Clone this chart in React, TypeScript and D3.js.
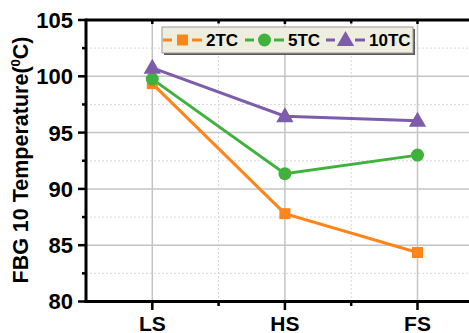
import React from "react";
import * as d3 from "d3";

const categories = ["LS", "HS", "FS"];
const seriesNames = ["2TC", "5TC", "10TC"];
const values2TC = [99.35, 87.8, 84.35];
const values5TC = [99.75, 91.35, 93.0];
const values10TC = [100.75, 96.45, 96.05];
const yTicks = [80, 85, 90, 95, 100, 105];
const yMinorTicks = [82.5, 87.5, 92.5, 97.5, 102.5];

const W = 469;
const H = 333;
const FONT = "'Liberation Sans', Arial, sans-serif";

const colors = ["#ff8419", "#41b13d", "#7d5cab"];
const shapes = ["square", "circle", "triangle"];

function Marker({ shape, cx, cy, color }: { shape: string; cx: number; cy: number; color: string }) {
  if (shape === "square") {
    return <rect x={cx - 5.5} y={cy - 5.5} width={11} height={11} fill={color} />;
  }
  if (shape === "circle") {
    return <circle cx={cx} cy={cy} r={6.5} fill={color} />;
  }
  const path = d3.symbol(d3.symbolTriangle, 130)();
  return <path d={path || ""} transform={`translate(${cx},${cy + 1})`} fill={color} />;
}

export default function App() {
  const x = d3.scaleLinear().domain([-0.5, 2.5]).range([86, 483.8]);
  const y = d3.scaleLinear().domain([80, 105]).range([301.5, 20]);
  const series = [values2TC, values5TC, values10TC];
  const line = d3
    .line<number>()
    .x((_, i) => x(i))
    .y((v) => y(v));
  const xMinor = [0.5, 1.5];

  const legendX = [163, 245, 326];
  const legendY = 40;

  return (
    <svg width={W} height={H} style={{ position: "absolute", left: 0, top: 0, background: "#fff" }}>
      {/* grid */}
      {yMinorTicks.map((t) => (
        <line key={"gm" + t} x1={86} x2={W} y1={y(t)} y2={y(t)} stroke="#d8d8d8" strokeWidth={1} strokeDasharray="2,2" />
      ))}
      {xMinor.map((t) => (
        <line key={"gxm" + t} x1={x(t)} x2={x(t)} y1={20} y2={301.5} stroke="#d8d8d8" strokeWidth={1} strokeDasharray="2,2" />
      ))}
      {yTicks.slice(1, -1).map((t) => (
        <line key={"g" + t} x1={86} x2={W} y1={y(t)} y2={y(t)} stroke="#c4c4c4" strokeWidth={1.5} />
      ))}
      {categories.map((c, i) => (
        <line key={"gx" + c} x1={x(i)} x2={x(i)} y1={20} y2={301.5} stroke="#c4c4c4" strokeWidth={1.5} />
      ))}

      {/* series */}
      {series.map((vals, s) => (
        <path key={"l" + s} d={line(vals) || ""} fill="none" stroke={colors[s]} strokeWidth={3} />
      ))}
      {series.map((vals, s) =>
        vals.map((v, i) => (
          <Marker key={`m${s}-${i}`} shape={shapes[s]} cx={x(i)} cy={y(v)} color={colors[s]} />
        ))
      )}

      {/* axes frame */}
      <line x1={86} x2={W} y1={20} y2={20} stroke="#000" strokeWidth={3} />
      <line x1={84.5} x2={W} y1={301.5} y2={301.5} stroke="#000" strokeWidth={3} />
      <line x1={86} x2={86} y1={18.5} y2={303} stroke="#000" strokeWidth={3} />

      {/* y ticks */}
      {yTicks.map((t) => (
        <g key={"yt" + t}>
          <line x1={78} x2={86} y1={y(t)} y2={y(t)} stroke="#000" strokeWidth={2.5} />
          <text x={73} y={y(t)} dy="0.36em" textAnchor="end" fontFamily={FONT} fontWeight="bold" fontSize={22} fill="#000">
            {t}
          </text>
        </g>
      ))}
      {yMinorTicks.map((t) => (
        <line key={"ymt" + t} x1={82} x2={86} y1={y(t)} y2={y(t)} stroke="#000" strokeWidth={2.5} />
      ))}

      {/* x ticks */}
      {categories.map((c, i) => (
        <g key={"xt" + c}>
          <line x1={x(i)} x2={x(i)} y1={301.5} y2={310} stroke="#000" strokeWidth={2.5} />
          <line x1={x(i)} x2={x(i)} y1={20} y2={24} stroke="#000" strokeWidth={2.5} />
          <text x={x(i)} y={330.5} textAnchor="middle" fontFamily={FONT} fontWeight="bold" fontSize={21} fill="#000">
            {c}
          </text>
        </g>
      ))}
      {xMinor.map((t) => (
        <g key={"xm" + t}>
          <line x1={x(t)} x2={x(t)} y1={301.5} y2={306} stroke="#000" strokeWidth={2.5} />
          <line x1={x(t)} x2={x(t)} y1={20} y2={23.5} stroke="#000" strokeWidth={2.5} />
        </g>
      ))}

      {/* y axis title */}
      <text
        transform="translate(28,160) rotate(-90)"
        textAnchor="middle"
        fontFamily={FONT}
        fontWeight="bold"
        fontSize={21.5}
        fill="#000"
      >
        FBG 10 Temperature(
        <tspan fontSize={13} dy={-8}>0</tspan>
        <tspan dy={8}>C)</tspan>
      </text>

      {/* legend */}
      <rect x={164} y={29} width={251} height={26} fill="#5a5a5a" />
      <rect x={162} y={27} width={251} height={26} fill="#eeeedf" stroke="#9a9a9a" strokeWidth={1} />
      {seriesNames.map((name, s) => {
        const lx = legendX[s];
        return (
          <g key={"lg" + name}>
            <line x1={lx} x2={lx + 9} y1={legendY} y2={legendY} stroke={colors[s]} strokeWidth={3} />
            <line x1={lx + 29} x2={lx + 39} y1={legendY} y2={legendY} stroke={colors[s]} strokeWidth={3} />
            <Marker shape={shapes[s]} cx={lx + 19.5} cy={legendY} color={colors[s]} />
            <text x={lx + 43} y={legendY} dy="0.36em" fontFamily={FONT} fontWeight="bold" fontSize={17} fill="#000">
              {name}
            </text>
          </g>
        );
      })}
    </svg>
  );
}
